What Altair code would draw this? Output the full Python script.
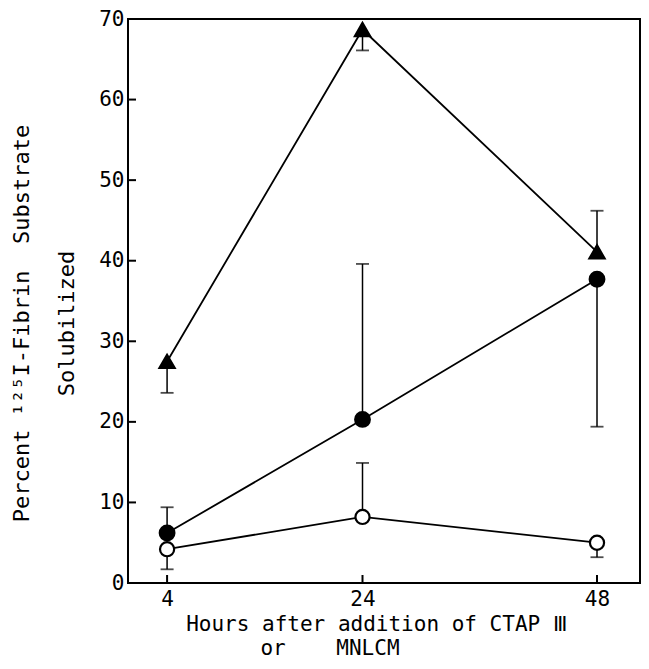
import altair as alt
import pandas as pd

# ---- data ----
hours = [4, 24, 48]
series = ["triangle", "filled", "open"]
tri_mean = [27.5, 68.7, 41.1]
tri_err = [23.6, 66.1, 46.2]
filled_mean = [6.2, 20.3, 37.7]
filled_err = [9.4, 39.6, 19.4]
open_mean = [4.2, 8.2, 5.0]
open_err = [1.7, 14.9, 3.2]

y_ticks = [0, 10, 20, 30, 40, 50, 60, 70]
x_ticks = [4, 24, 48]
y_title = ["Percent\u00a0\u00b9\u00b2\u2075I-Fibrin\u00a0\u00a0Substrate", "Solubilized"]
x_title_1 = "Hours after addition of CTAP\u00a0\u2162"
x_title_2 = "or\u00a0\u00a0\u00a0\u00a0MNLCM"

FONT = "DejaVu Sans Mono"
W, H = 512, 564

rows = []
for name, m, e in [("triangle", tri_mean, tri_err),
                   ("filled", filled_mean, filled_err),
                   ("open", open_mean, open_err)]:
    for h, mv, ev in zip(hours, m, e):
        rows.append({"series": name, "hours": h, "mean": mv, "err": ev})
df = pd.DataFrame(rows)

xscale = alt.Scale(domain=[0, 52.4], nice=False, zero=False)
yscale = alt.Scale(domain=[0, 70], nice=False)

x_axis = alt.Axis(values=x_ticks, ticks=False, domain=False, grid=False,
                  labelFont=FONT, labelFontSize=21, labelColor="black",
                  labelPadding=5, labelFlush=False,
                  title=x_title_1, titleFont=FONT, titleFontSize=21,
                  titleFontWeight="normal", titleColor="black",
                  titleX=248, titleY=47, titleBaseline="alphabetic",
                  titleAlign="center", titleAnchor="middle")
y_axis = alt.Axis(values=y_ticks, ticks=False, domain=False, grid=False,
                  labelFont=FONT, labelFontSize=21, labelColor="black",
                  labelPadding=4, labelFlush=False,
                  title=y_title, titleFont=FONT, titleFontSize=22,
                  titleFontWeight="normal", titleColor="black",
                  titleAngle=270, titleBaseline="alphabetic",
                  titleLineHeight=45, titleX=-100, titleY=304,
                  titleAlign="center")

base = alt.Chart(df)
X = alt.X("hours:Q", scale=xscale, axis=x_axis)
Y = alt.Y("mean:Q", scale=yscale, axis=y_axis)

lines = base.mark_line(color="black", strokeWidth=1.8).encode(
    x=X, y=Y, detail="series:N")

stems = base.mark_rule(color="black", strokeWidth=1.5).encode(
    x=X, y=Y, y2="err:Q")

caps = base.mark_tick(color="black", orient="horizontal", size=13,
                      thickness=1.8).encode(x=X, y=alt.Y("err:Q", scale=yscale, axis=y_axis))

points = base.mark_point(filled=False, opacity=1, strokeWidth=2.2).encode(
    x=X, y=Y,
    shape=alt.Shape("series:N", scale=alt.Scale(
        domain=series, range=["triangle-up", "circle", "circle"]), legend=None),
    fill=alt.Fill("series:N", scale=alt.Scale(
        domain=series, range=["black", "black", "white"]), legend=None),
    size=alt.Size("series:N", scale=alt.Scale(
        domain=series, range=[230, 200, 150]), legend=None),
    stroke=alt.value("black"),
)

ytick_df = pd.DataFrame({"v": y_ticks})
ytick_rules = alt.Chart(ytick_df).mark_rule(color="black", strokeWidth=2).encode(
    y=alt.Y("v:Q", scale=yscale, axis=y_axis), x=alt.value(0), x2=alt.value(8))

xtick_df = pd.DataFrame({"v": x_ticks})
xtick_rules = alt.Chart(xtick_df).mark_rule(color="black", strokeWidth=2).encode(
    x=alt.X("v:Q", scale=xscale, axis=x_axis), y=alt.value(H), y2=alt.value(H - 8))

title2 = alt.Chart(pd.DataFrame({"t": [x_title_2]})).mark_text(
    font=FONT, fontSize=21, color="black", baseline="alphabetic", align="center"
).encode(text="t:N", x=alt.value(202), y=alt.value(636))

chart = alt.layer(lines, stems, caps, points, ytick_rules, xtick_rules, title2).properties(
    width=W, height=H,
    background="white",
    autosize=alt.AutoSizeParams(type="none"),
    padding={"left": 120, "top": 11, "right": 1, "bottom": 76},
).configure_view(stroke="black", strokeWidth=2)

chart.save("out.html", embed_options={"renderer": "svg", "actions": False})
